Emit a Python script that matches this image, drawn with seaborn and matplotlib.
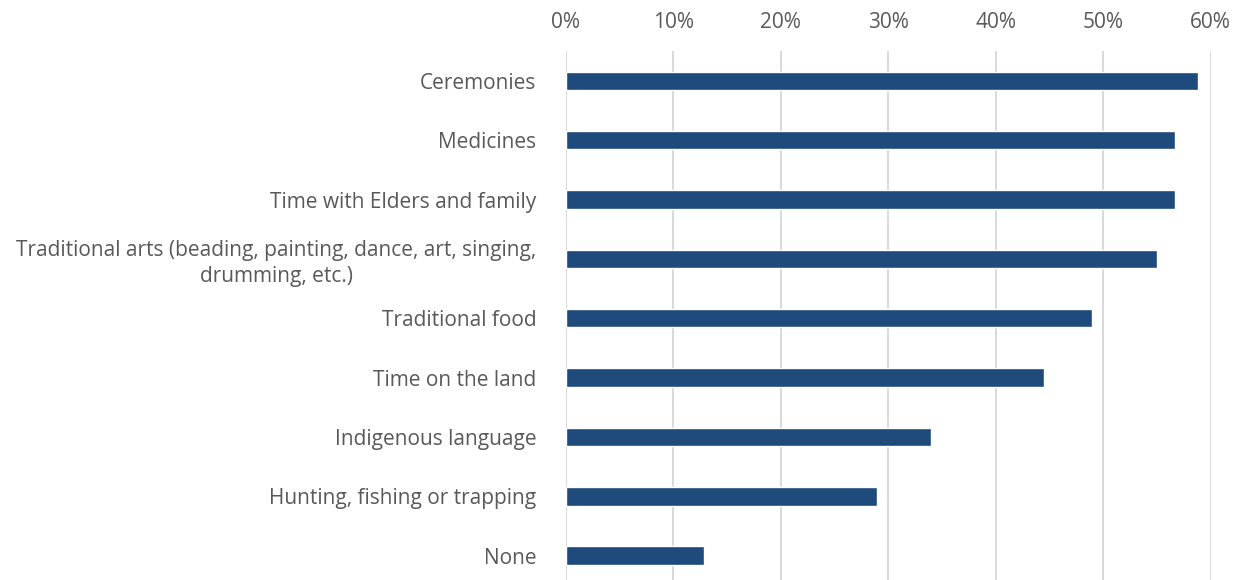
import matplotlib
matplotlib.use("Agg")
import matplotlib.pyplot as plt
from matplotlib.ticker import PercentFormatter
import seaborn as sns
import pandas as pd

categories = [
    "Ceremonies",
    "Medicines",
    "Time with Elders and family",
    "Traditional arts (beading, painting, dance, art, singing,\ndrumming, etc.)",
    "Traditional food",
    "Time on the land",
    "Indigenous language",
    "Hunting, fishing or trapping",
    "None",
]
shares = [0.588, 0.567, 0.567, 0.550, 0.490, 0.445, 0.340, 0.290, 0.129]
x_ticks = [0.0, 0.1, 0.2, 0.3, 0.4, 0.5, 0.6]

df = pd.DataFrame({"category": categories, "share": shares})

sns.set_theme(style="white")
plt.rcParams["font.family"] = ["Open Sans", "DejaVu Sans"]

fig = plt.figure(figsize=(12.4, 5.8), dpi=100)
ax = fig.add_axes([0.4562, 0.0, 0.9764 - 0.4562, 0.912])

sns.barplot(data=df, x="share", y="category", orient="h", color="#1F4A7C",
            width=0.31, saturation=1, ax=ax, zorder=3)

ax.set_xlim(0, 0.6)
ax.set_ylim(8.41, -0.502)
ax.set_xticks(x_ticks)
ax.xaxis.set_major_formatter(PercentFormatter(1.0, decimals=0))
ax.xaxis.tick_top()
ax.grid(axis="x", color="#D9D9D9", linewidth=1.4, zorder=0)
ax.grid(axis="y", visible=False)
for s in ax.spines.values():
    s.set_visible(False)
ax.set_xlabel("")
ax.set_ylabel("")
ax.tick_params(axis="x", length=0, pad=13, labelsize=15, labelcolor="#595959")
ax.tick_params(axis="y", length=0, pad=21, labelsize=15, labelcolor="#595959")
for lbl in ax.get_yticklabels():
    lbl.set_multialignment("center")
    lbl.set_linespacing(1.3)

fig.savefig("out.png", dpi=100)
